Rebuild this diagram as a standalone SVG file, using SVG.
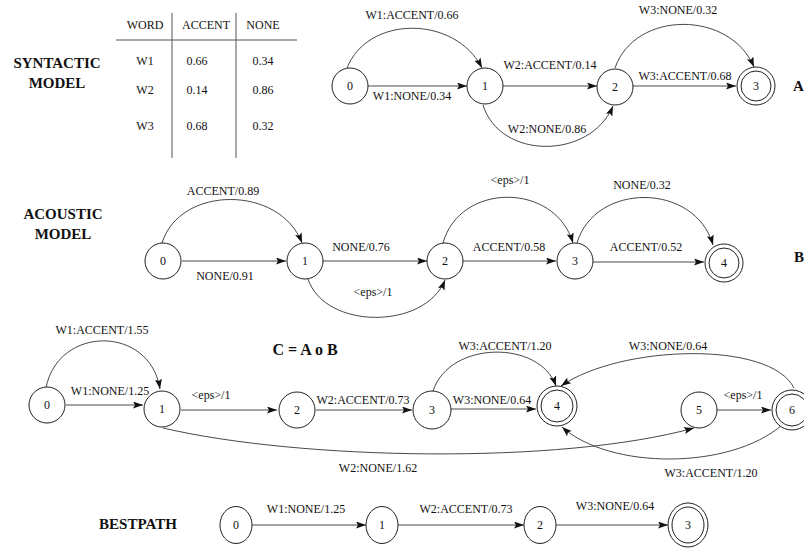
<svg xmlns="http://www.w3.org/2000/svg" width="804" height="557" viewBox="0 0 804 557">
<defs>
<marker id="ah" markerUnits="userSpaceOnUse" markerWidth="11" markerHeight="8" refX="10" refY="3.5" orient="auto">
<path d="M0,0 L10,3.5 L0,7 L2,3.5 z" fill="#111"/>
</marker>
<style>
.n{fill:#fff;stroke:#222;stroke-width:1}
.e{fill:none;stroke:#333;stroke-width:0.9;marker-end:url(#ah)}
text{font-family:'Liberation Serif','DejaVu Serif','Times New Roman',Times,serif;fill:#111;text-anchor:middle}
.t{font-size:12px}
.b{font-size:15px;font-weight:bold}
.g{stroke:#555;stroke-width:1}
</style>
</defs>
<rect width="804" height="557" fill="#fff"/>

<g id="table">
<line class="g" x1="116" y1="40" x2="297" y2="40"/>
<line class="g" x1="172" y1="13" x2="172" y2="158"/>
<line class="g" x1="236" y1="13" x2="236" y2="158"/>
<text class="t" x="145" y="29">WORD</text>
<text class="t" x="206" y="29">ACCENT</text>
<text class="t" x="263" y="29">NONE</text>
<text class="t" x="145" y="65">W1</text><text class="t" x="197" y="65">0.66</text><text class="t" x="263" y="65">0.34</text>
<text class="t" x="145" y="94">W2</text><text class="t" x="197" y="94">0.14</text><text class="t" x="263" y="94">0.86</text>
<text class="t" x="145" y="130">W3</text><text class="t" x="197" y="130">0.68</text><text class="t" x="263" y="130">0.32</text>
</g>
<g id="titles">
<text class="b" x="57" y="68">SYNTACTIC</text>
<text class="b" x="57" y="88">MODEL</text>
<text class="b" x="63" y="219">ACOUSTIC</text>
<text class="b" x="63" y="239">MODEL</text>
<text class="b" x="305" y="355" style="font-size:16px">C = A o B</text>
<text class="b" x="138" y="529">BESTPATH</text>
<text class="b" x="793" y="91" style="text-anchor:start">A</text>
<text class="b" x="794" y="262" style="text-anchor:start">B</text>
</g>

<g id="connectors">
<path class="e" d="M347,68 C368,15 455,15 482,68"/>
<path class="e" d="M368,86 L467,86"/>
<path class="e" d="M503,86 L597,86"/>
<path class="e" d="M483,105 C500,160 590,160 613,106"/>
<path class="e" d="M633,86 L736,86"/>
<path class="e" d="M615,68 C635,10 730,10 754,67"/>
<path class="e" d="M162,243 C180,185 280,185 302,243"/>
<path class="e" d="M182,261 L286,261"/>
<path class="e" d="M323,261 L427,261"/>
<path class="e" d="M308,279 C325,330 425,330 445,280"/>
<path class="e" d="M443,243 C460,182 555,182 573,243"/>
<path class="e" d="M463,261 L556,261"/>
<path class="e" d="M577,243 C595,182 695,182 713,245"/>
<path class="e" d="M593,262 L704,262"/>
<path class="e" d="M46,388 C58,325 150,325 160,389"/>
<path class="e" d="M66,405 L143,405"/>
<path class="e" d="M181,410 L277,410"/>
<path class="e" d="M316,410 L412,410"/>
<path class="e" d="M433,391 C450,340 540,340 556,386"/>
<path class="e" d="M451,409 L536,409"/>
<path class="e" d="M794,388 C770,340 620,345 561,386"/>
<path class="e" d="M717,410 L771,410"/>
<path class="e" d="M163,428 C300,460 560,465 694,428"/>
<path class="e" d="M782,425 C730,470 610,470 562,427"/>
<path class="e" d="M252,525 L366,525"/>
<path class="e" d="M398,525 L524,525"/>
<path class="e" d="M556,525 L668,525"/>
</g>

<g id="labels">
<text class="t" x="412" y="19">W1:ACCENT/0.66</text>
<text class="t" x="412" y="100">W1:NONE/0.34</text>
<text class="t" x="550" y="69">W2:ACCENT/0.14</text>
<text class="t" x="547" y="133">W2:NONE/0.86</text>
<text class="t" x="685" y="80">W3:ACCENT/0.68</text>
<text class="t" x="678" y="14">W3:NONE/0.32</text>
<text class="t" x="223" y="195">ACCENT/0.89</text>
<text class="t" x="225" y="280">NONE/0.91</text>
<text class="t" x="361" y="251">NONE/0.76</text>
<text class="t" x="373" y="296">&lt;eps&gt;/1</text>
<text class="t" x="510" y="184">&lt;eps&gt;/1</text>
<text class="t" x="509" y="251">ACCENT/0.58</text>
<text class="t" x="642" y="189">NONE/0.32</text>
<text class="t" x="646" y="251">ACCENT/0.52</text>
<text class="t" x="102" y="334">W1:ACCENT/1.55</text>
<text class="t" x="110" y="395">W1:NONE/1.25</text>
<text class="t" x="211" y="399">&lt;eps&gt;/1</text>
<text class="t" x="363" y="404">W2:ACCENT/0.73</text>
<text class="t" x="505" y="350">W3:ACCENT/1.20</text>
<text class="t" x="492" y="404">W3:NONE/0.64</text>
<text class="t" x="668" y="350">W3:NONE/0.64</text>
<text class="t" x="743" y="399">&lt;eps&gt;/1</text>
<text class="t" x="378" y="472">W2:NONE/1.62</text>
<text class="t" x="711" y="477">W3:ACCENT/1.20</text>
<text class="t" x="306" y="513">W1:NONE/1.25</text>
<text class="t" x="466" y="513">W2:ACCENT/0.73</text>
<text class="t" x="615" y="510">W3:NONE/0.64</text>
</g>

<g id="a0"><circle class="n" cx="350" cy="86" r="18"/><text class="t" x="350" y="90">0</text></g>
<g id="a1"><circle class="n" cx="485" cy="86" r="18"/><text class="t" x="485" y="90">1</text></g>
<g id="a2"><circle class="n" cx="615" cy="87" r="18"/><text class="t" x="615" y="91">2</text></g>
<g id="a3"><circle class="n" cx="756" cy="86" r="19"/><circle class="n" cx="756" cy="86" r="15"/><text class="t" x="756" y="90">3</text></g>
<g id="b0"><circle class="n" cx="163" cy="261" r="18"/><text class="t" x="163" y="265">0</text></g>
<g id="b1"><circle class="n" cx="305" cy="261" r="18"/><text class="t" x="305" y="265">1</text></g>
<g id="b2"><circle class="n" cx="445" cy="261" r="18"/><text class="t" x="445" y="265">2</text></g>
<g id="b3"><circle class="n" cx="575" cy="261" r="18"/><text class="t" x="575" y="265">3</text></g>
<g id="b4"><circle class="n" cx="724" cy="263" r="19"/><circle class="n" cx="724" cy="263" r="15"/><text class="t" x="724" y="267">4</text></g>
<g id="c0"><circle class="n" cx="47" cy="405" r="18"/><text class="t" x="47" y="409">0</text></g>
<g id="c1"><circle class="n" cx="162" cy="409" r="18"/><text class="t" x="162" y="413">1</text></g>
<g id="c2"><circle class="n" cx="297" cy="410" r="18"/><text class="t" x="297" y="414">2</text></g>
<g id="c3"><circle class="n" cx="432" cy="410" r="19"/><text class="t" x="432" y="414">3</text></g>
<g id="c4"><circle class="n" cx="557" cy="406" r="20"/><circle class="n" cx="557" cy="406" r="16"/><text class="t" x="557" y="410">4</text></g>
<g id="c5"><circle class="n" cx="699" cy="410" r="18"/><text class="t" x="699" y="414">5</text></g>
<g id="c6"><circle class="n" cx="792" cy="410" r="20"/><circle class="n" cx="792" cy="410" r="16"/><text class="t" x="792" y="414">6</text></g>
<g id="p0"><ellipse class="n" cx="236" cy="525" rx="16" ry="18.5"/><text class="t" x="236" y="529">0</text></g>
<g id="p1"><ellipse class="n" cx="382" cy="525" rx="16" ry="18.5"/><text class="t" x="382" y="529">1</text></g>
<g id="p2"><ellipse class="n" cx="540" cy="525" rx="16" ry="18.5"/><text class="t" x="540" y="529">2</text></g>
<g id="p3"><ellipse class="n" cx="688" cy="525" rx="20" ry="22"/><ellipse class="n" cx="688" cy="525" rx="16" ry="18"/><text class="t" x="688" y="529">3</text></g>
</svg>
